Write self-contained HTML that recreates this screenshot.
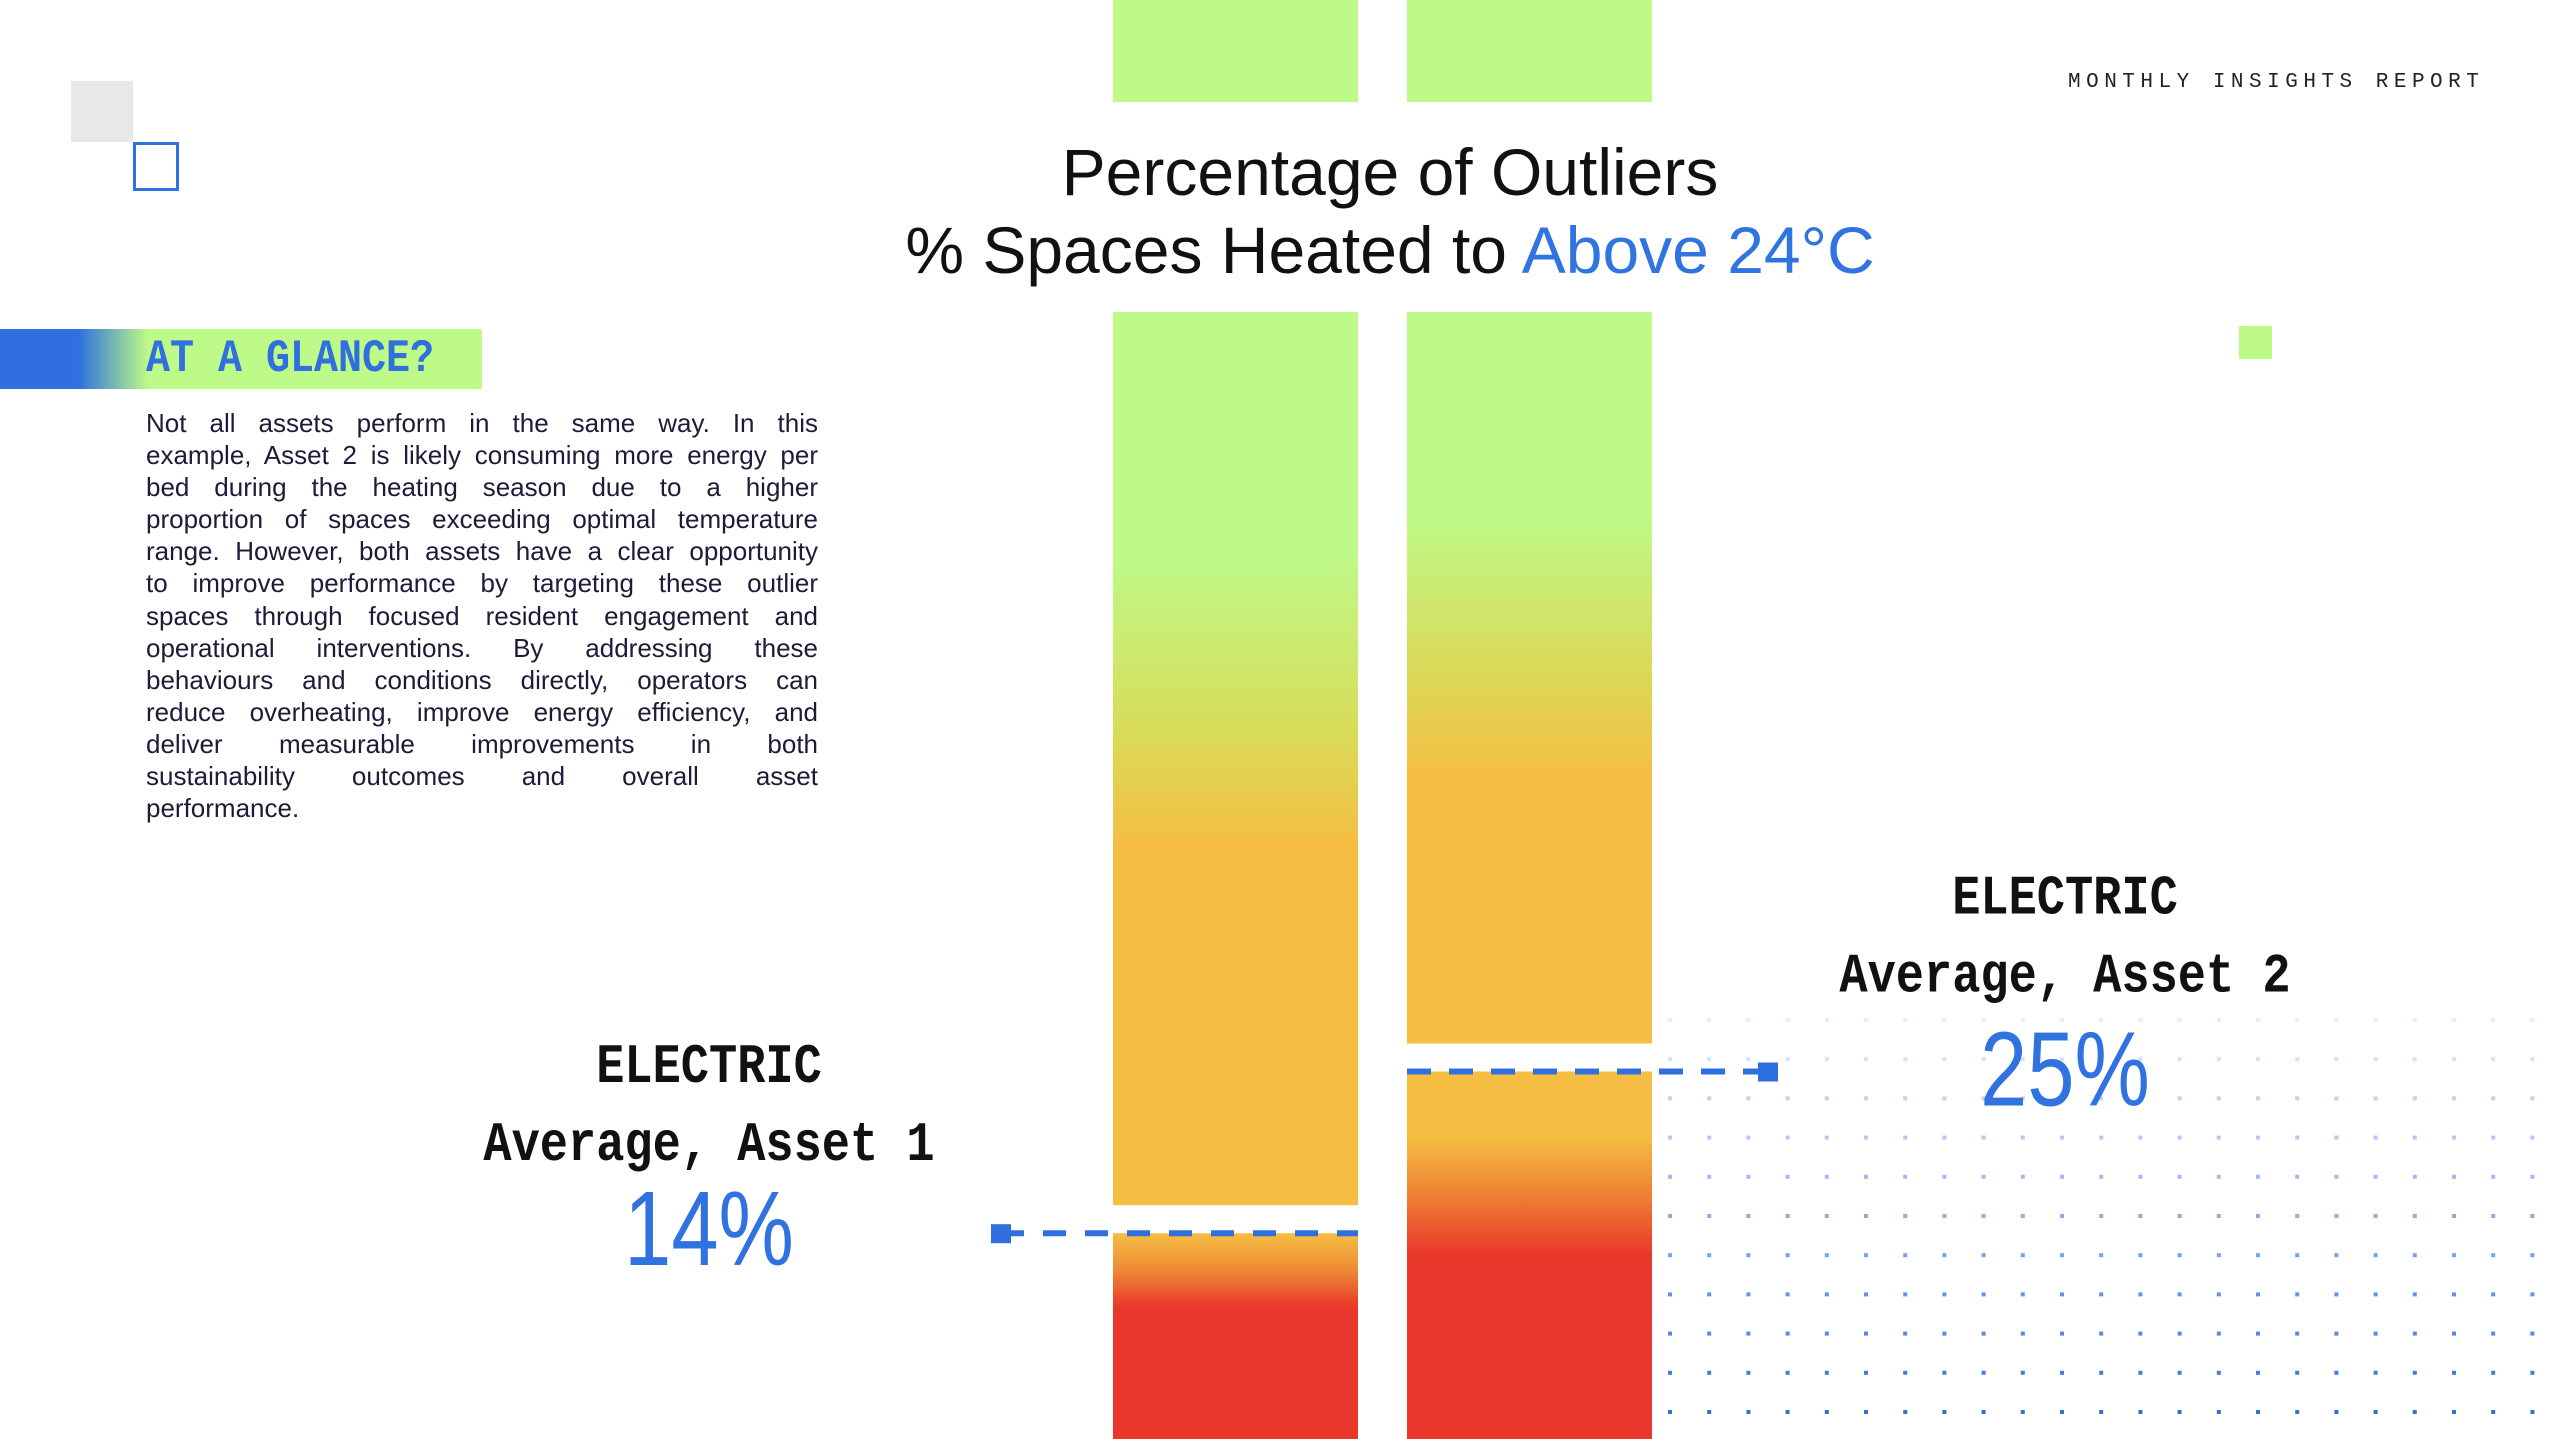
<!DOCTYPE html>
<html><head><meta charset="utf-8">
<style>
html,body{margin:0;padding:0;background:#fff;}
body{width:2560px;height:1439px;position:relative;overflow:hidden;font-family:"Liberation Sans",sans-serif;}
.abs{position:absolute;}
#para{left:146px;top:407px;width:672px;font-size:26px;line-height:32.1px;color:#1b1c38;}
#para span{display:block;text-align:justify;text-align-last:justify;white-space:nowrap;}
#para span.last{text-align-last:left;}
</style></head>
<body>
<div class="abs" style="left:71px;top:81px;width:62px;height:61px;background:#e8e8e8"></div>
<div class="abs" style="left:133px;top:142px;width:40px;height:43px;border:3px solid #2f72e0"></div>
<div class="abs" style="left:2239px;top:326px;width:33px;height:33px;background:#bdfa88"></div>
<div class="abs" style="left:2068px;top:71px;font-family:'Liberation Mono',monospace;font-size:21px;letter-spacing:5.5px;color:#222">MONTHLY INSIGHTS REPORT</div>
<div class="abs" style="left:0;top:329px;width:482px;height:60px;background:linear-gradient(90deg,#2f6fe0 0px,#2f6fe0 78px,#bdfa88 148px,#bdfa88 100%)"></div>
<div class="abs" style="left:146px;top:334px;font-family:'Liberation Mono',monospace;font-weight:bold;font-size:40px;color:#2f6fe0;transform:scaleY(1.15);transform-origin:top left">AT A GLANCE?</div>
<div class="abs" id="para"><span>Not all assets perform in the same way. In this</span><span>example, Asset 2 is likely consuming more energy per</span><span>bed during the heating season due to a higher</span><span>proportion of spaces exceeding optimal temperature</span><span>range. However, both assets have a clear opportunity</span><span>to improve performance by targeting these outlier</span><span>spaces through focused resident engagement and</span><span>operational interventions. By addressing these</span><span>behaviours and conditions directly, operators can</span><span>reduce overheating, improve energy efficiency, and</span><span>deliver measurable improvements in both</span><span>sustainability outcomes and overall asset</span><span class="last">performance.</span></div>

<svg id="chart" class="abs" style="left:0;top:0" width="2560" height="1439" xmlns="http://www.w3.org/2000/svg">
<defs>
<linearGradient id="up0" x1="0" y1="0" x2="0" y2="1"><stop offset="0" stop-color="#bdfa88"/><stop offset="0.27" stop-color="#bdfa88"/><stop offset="0.47" stop-color="#d9dc58"/><stop offset="0.60" stop-color="#f5bd42"/><stop offset="1" stop-color="#f5bd42"/></linearGradient>
<linearGradient id="up1" x1="0" y1="0" x2="0" y2="1"><stop offset="0" stop-color="#bdfa88"/><stop offset="0.275" stop-color="#bdfa88"/><stop offset="0.5" stop-color="#dcd856"/><stop offset="0.64" stop-color="#f5bd42"/><stop offset="1" stop-color="#f5bd42"/></linearGradient>
<linearGradient id="lo0" x1="0" y1="0" x2="0" y2="1"><stop offset="0" stop-color="#f5bd42"/><stop offset="0.18" stop-color="#ee8a35"/><stop offset="0.36" stop-color="#e9372b"/><stop offset="1" stop-color="#e9372b"/></linearGradient>
<linearGradient id="lo1" x1="0" y1="0" x2="0" y2="1"><stop offset="0" stop-color="#f5bd42"/><stop offset="0.18" stop-color="#f5bd42"/><stop offset="0.34" stop-color="#ee7f34"/><stop offset="0.5" stop-color="#e9372b"/><stop offset="1" stop-color="#e9372b"/></linearGradient>
</defs>
<text x="1390" y="195" text-anchor="middle" font-family="Liberation Sans, sans-serif" font-size="66" fill="#111">Percentage of Outliers</text>
<text x="1390" y="273" text-anchor="middle" font-family="Liberation Sans, sans-serif" font-size="66" fill="#111">% Spaces Heated to <tspan fill="#2f74e0">Above 24°C</tspan></text>
<g id="dots"></g>
<g id="bars"></g>
</svg>

<script>
const categories = ["Asset 1", "Asset 2"];
const values = [14, 25];
const valueLabels = ["14%", "25%"];
const fuelLabels = ["ELECTRIC", "ELECTRIC"];

const NS = "http://www.w3.org/2000/svg";
const baseY = 1439, pxPer = 14.7, barTop = 312, gapAbove = 28;
const barX = [1113, 1407], barW = 245;
function yScale(v){ return baseY - v * pxPer; }

const bars = document.getElementById('bars');
function mk(tag, attrs){ const e = document.createElementNS(NS, tag); for (const k in attrs) e.setAttribute(k, attrs[k]); return e; }

categories.forEach((c, i) => {
  const x = barX[i], yv = yScale(values[i]);
  const cap = mk('rect', {x: x, y: 0, width: barW, height: 102, fill: '#bdfa88'});
  
  
  bars.appendChild(cap);
  const up = mk('rect', {x: x, y: barTop, width: barW, height: yv - gapAbove - barTop, fill: 'url(#up' + i + ')'});
  
  
  bars.appendChild(up);
  const lo = mk('rect', {x: x, y: yv, width: barW, height: baseY - yv, fill: 'url(#lo' + i + ')'});
  
  
  bars.appendChild(lo);
  let x1, x2, mx;
  if (i === 0) { x1 = 1008; x2 = x + barW; mx = 991; }
  else { x1 = x; x2 = 1760; mx = 1758; }
  const ln = mk('line', {x1: x1, x2: x2, y1: yv, y2: yv, stroke: '#2f6fe0', 'stroke-width': 6, 'stroke-dasharray': '24 18'});
  if (i === 0) { ln.setAttribute('stroke-dasharray', '16 19 23 19 23 19 23 19 23 19 23 19 23 19 23 19 23 19'); }
  
  
  bars.appendChild(ln);
  const mkr = mk('rect', {x: mx, y: yv - 9, width: 20, height: 19, fill: '#2f6fe0'});
  
  
  bars.appendChild(mkr);
  const cx = i === 0 ? 709 : 2065;
  const ty = i === 0 ? yv - 151 : yv - 158;
  const pctDy = i === 0 ? 183 : 192;
  const t1 = mk('text', {x: cx, y: 0, 'text-anchor': 'middle', 'font-family': 'Liberation Mono, monospace', 'font-weight': 'bold', 'font-size': 47, fill: '#111', transform: 'translate(0,' + (ty) + ') scale(1,1.18)'});
  t1.textContent = fuelLabels[i];
  
  
  bars.appendChild(t1);
  const t2 = mk('text', {x: cx, y: 0, 'text-anchor': 'middle', 'font-family': 'Liberation Mono, monospace', 'font-weight': 'bold', 'font-size': 47, fill: '#111', transform: 'translate(0,' + (ty + 78) + ') scale(1,1.18)'});
  t2.textContent = 'Average, ' + categories[i];
  
  
  bars.appendChild(t2);
  const t3 = mk('text', {x: 0, y: 0, 'text-anchor': 'middle', 'font-family': 'Liberation Sans, sans-serif', 'font-size': 106, fill: '#2f72e0', transform: 'translate(' + cx + ',' + (ty + pctDy) + ') scale(0.8,1)'});
  t3.textContent = valueLabels[i];
  
  
  bars.appendChild(t3);
});

const dots = document.getElementById('dots');
for (let r = 0; r < 11; r++) {
  for (let c = 0; c < 23; c++) {
    const d = mk('rect', {x: 1668 + c * 39.2, y: 1018 + r * 39.2, width: 4, height: 4, fill: '#2f6fe0', opacity: (0.12 + 0.88 * r / 10).toFixed(2)});
    
    
    dots.appendChild(d);
  }
}
</script>
</body></html>
